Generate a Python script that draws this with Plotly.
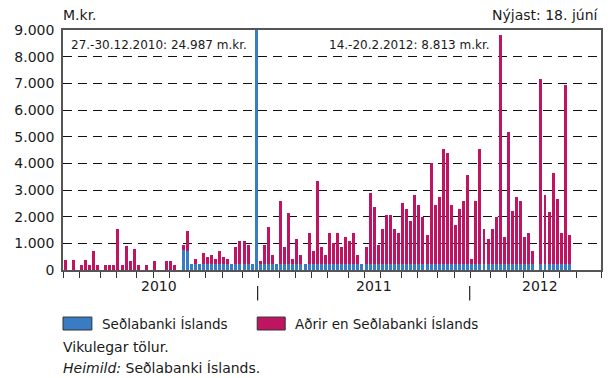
import pandas as pd
import plotly.graph_objects as go

# weekly figures, first week starts Monday 1 Feb 2010, last week 11 Jun 2012
weeks = pd.date_range("2010-02-01", periods=125, freq="7D")

# m.kr. per week, Seðlabanki Íslands (blue)
sedlabanki = [
    0, None, 0, None, 0, 0, 0, 0, 0, None,
    0, 0, 0, 0, 0, 0, 0, 0, 0, None,
    0, None, 0, None, None, 0, 0, 0, None, 760,
    695, 240, 240, 240, 240, 240, 240, 240, 240, 240,
    240, 240, 240, 240, 240, 240, 240, 24700, 240, 240,
    240, 240, 240, 240, 240, 240, 240, 240, 240, 240,
    240, 240, 240, 240, 240, 240, 240, 240, 240, 240,
    240, 240, 240, 240, 240, 240, 240, 240, 240, 240,
    240, 240, 240, 240, 240, 240, 240, 240, 240, 240,
    240, 240, 240, 240, 240, 240, 240, 240, 240, 240,
    240, 240, 240, 240, 240, 240, 240, 240, 240, 240,
    240, 240, 240, 240, 240, 240, None, 240, 240, 240,
    240, 240, 240, 240, 240,
]

# m.kr. per week, aðrir en Seðlabanki Íslands (pink)
adrir = [
    360, None, 360, None, 175, 360, 175, 700, 175, None,
    175, 175, 175, 1525, 175, 890, 325, 775, 175, None,
    175, None, 325, None, None, 320, 320, 170, None, 160,
    750, 0, 155, 0, 380, 230, 305, 155, 455, 230,
    155, 0, 605, 830, 830, 680, 0, 287, 80, 680,
    1390, 305, 0, 2365, 605, 1915, 155, 940, 305, 0,
    1130, 455, 3080, 640, 305, 1165, 790, 1130, 640, 980,
    830, 1165, 340, 0, 640, 2630, 2140, 680, 1315, 1805,
    1805, 1315, 1130, 2255, 2065, 1580, 2555, 2215, 1730, 1090,
    3790, 2215, 2515, 4280, 4130, 2215, 1430, 2065, 2365, 3340,
    155, 2365, 4315, 1280, 940, 1280, 1765, 8573, 1015, 4950,
    1990, 2515, 2365, 1015, 1165, 490, None, 6905, 2590, 1950,
    3380, 2405, 1130, 6715, 1090,
]

y_ticks = [0, 1000, 2000, 3000, 4000, 5000, 6000, 7000, 8000, 9000]
years = ["2010", "2011", "2012"]
year_label_dates = ["2010-07-15", "2011-07-20", "2012-05-01"]
year_breaks = ["2011-01-01", "2012-01-01"]

BLUE = "#3a7cc4"
PINK = "#bf1462"
FONT = "DejaVu Sans"
TXT = "#1a1a1a"

bar_x = weeks + pd.Timedelta(hours=62)
bar_w = 5.1 * 24 * 3600 * 1000

# month ticks sit on the first Monday of each month
mondays = pd.date_range("2010-02-01", "2012-07-31", freq="7D")
tick_dates = [d for d in mondays if d.day <= 7] + [pd.Timestamp("2012-08-14")]

fig = go.Figure()
fig.add_trace(go.Bar(x=bar_x, y=sedlabanki, name="Seðlabanki Íslands",
                     marker=dict(color=BLUE, line=dict(width=0)), width=bar_w))
fig.add_trace(go.Bar(x=bar_x, y=adrir, name="Aðrir en Seðlabanki Íslands",
                     marker=dict(color=PINK, line=dict(width=0)), width=bar_w))

fig.update_layout(
    barmode="stack", width=611, height=378, showlegend=False,
    margin=dict(l=63, r=8, t=30, b=108),
    plot_bgcolor="white", paper_bgcolor="white",
    separators=",.",
    font=dict(family=FONT, size=14, color=TXT),
)

fig.update_xaxes(type="date", range=["2010-01-31", "2012-08-14"],
                 showline=True, linecolor="#555", linewidth=1.5, mirror=True,
                 showgrid=False, zeroline=False, showticklabels=False,
                 ticks="outside", ticklen=6, tickwidth=1, tickcolor="#333",
                 tickmode="array", tickvals=tick_dates)

fig.update_yaxes(range=[0, 9000], tickmode="array", tickvals=y_ticks, tickformat=",.0f",
                 showline=True, linecolor="#555", linewidth=1.5, mirror=True,
                 showgrid=True, gridcolor="#111", gridwidth=1.2, griddash="9px,6px",
                 zeroline=False, ticks="", ticklabelstandoff=4,
                 tickfont=dict(family=FONT, size=14, color=TXT))

# year labels and separators under the axis
for yr, d in zip(years, year_label_dates):
    fig.add_annotation(x=d, y=-0.108, xref="x", yref="paper", text=yr, showarrow=False,
                       font=dict(size=14))
for d in year_breaks:
    fig.add_shape(type="line", xref="x", yref="paper", x0=d, x1=d, y0=-0.067, y1=-0.127,
                  line=dict(color="#222", width=1.2))

def note(text, x, y, anchor="left", size=14):
    fig.add_annotation(x=x, y=y, xref="paper", yref="paper", text=text, showarrow=False,
                       xanchor=anchor, yanchor="middle", font=dict(size=size))

note("M.kr.", -0.003, 1.0625)
note("Nýjast: 18. júní", 1.0, 1.0625, anchor="right")
note("27.-30.12.2010: 24.987 m.kr.", 0.011, 0.9375, size=12)
note("14.-20.2.2012: 8.813 m.kr.", 0.798, 0.9375, anchor="right", size=12)

# legend drawn by hand (wide swatches)
fig.add_shape(type="rect", xref="paper", yref="paper", x0=0.0, x1=0.0537, y0=-0.25, y1=-0.196,
              fillcolor=BLUE, line=dict(color="#333", width=1))
fig.add_shape(type="rect", xref="paper", yref="paper", x0=0.361, x1=0.413, y0=-0.25, y1=-0.196,
              fillcolor=PINK, line=dict(color="#333", width=1))
note("Seðlabanki Íslands", 0.068, -0.223, size=13.5)
note("Aðrir en Seðlabanki Íslands", 0.428, -0.223, size=13.5)
note("Vikulegar tölur.", -0.003, -0.321)
note("<i>Heimild:</i> Seðlabanki Íslands.", -0.003, -0.408)

fig.write_html("out.html", config={"displayModeBar": False},
               post_script="document.body.style.margin='0';")
